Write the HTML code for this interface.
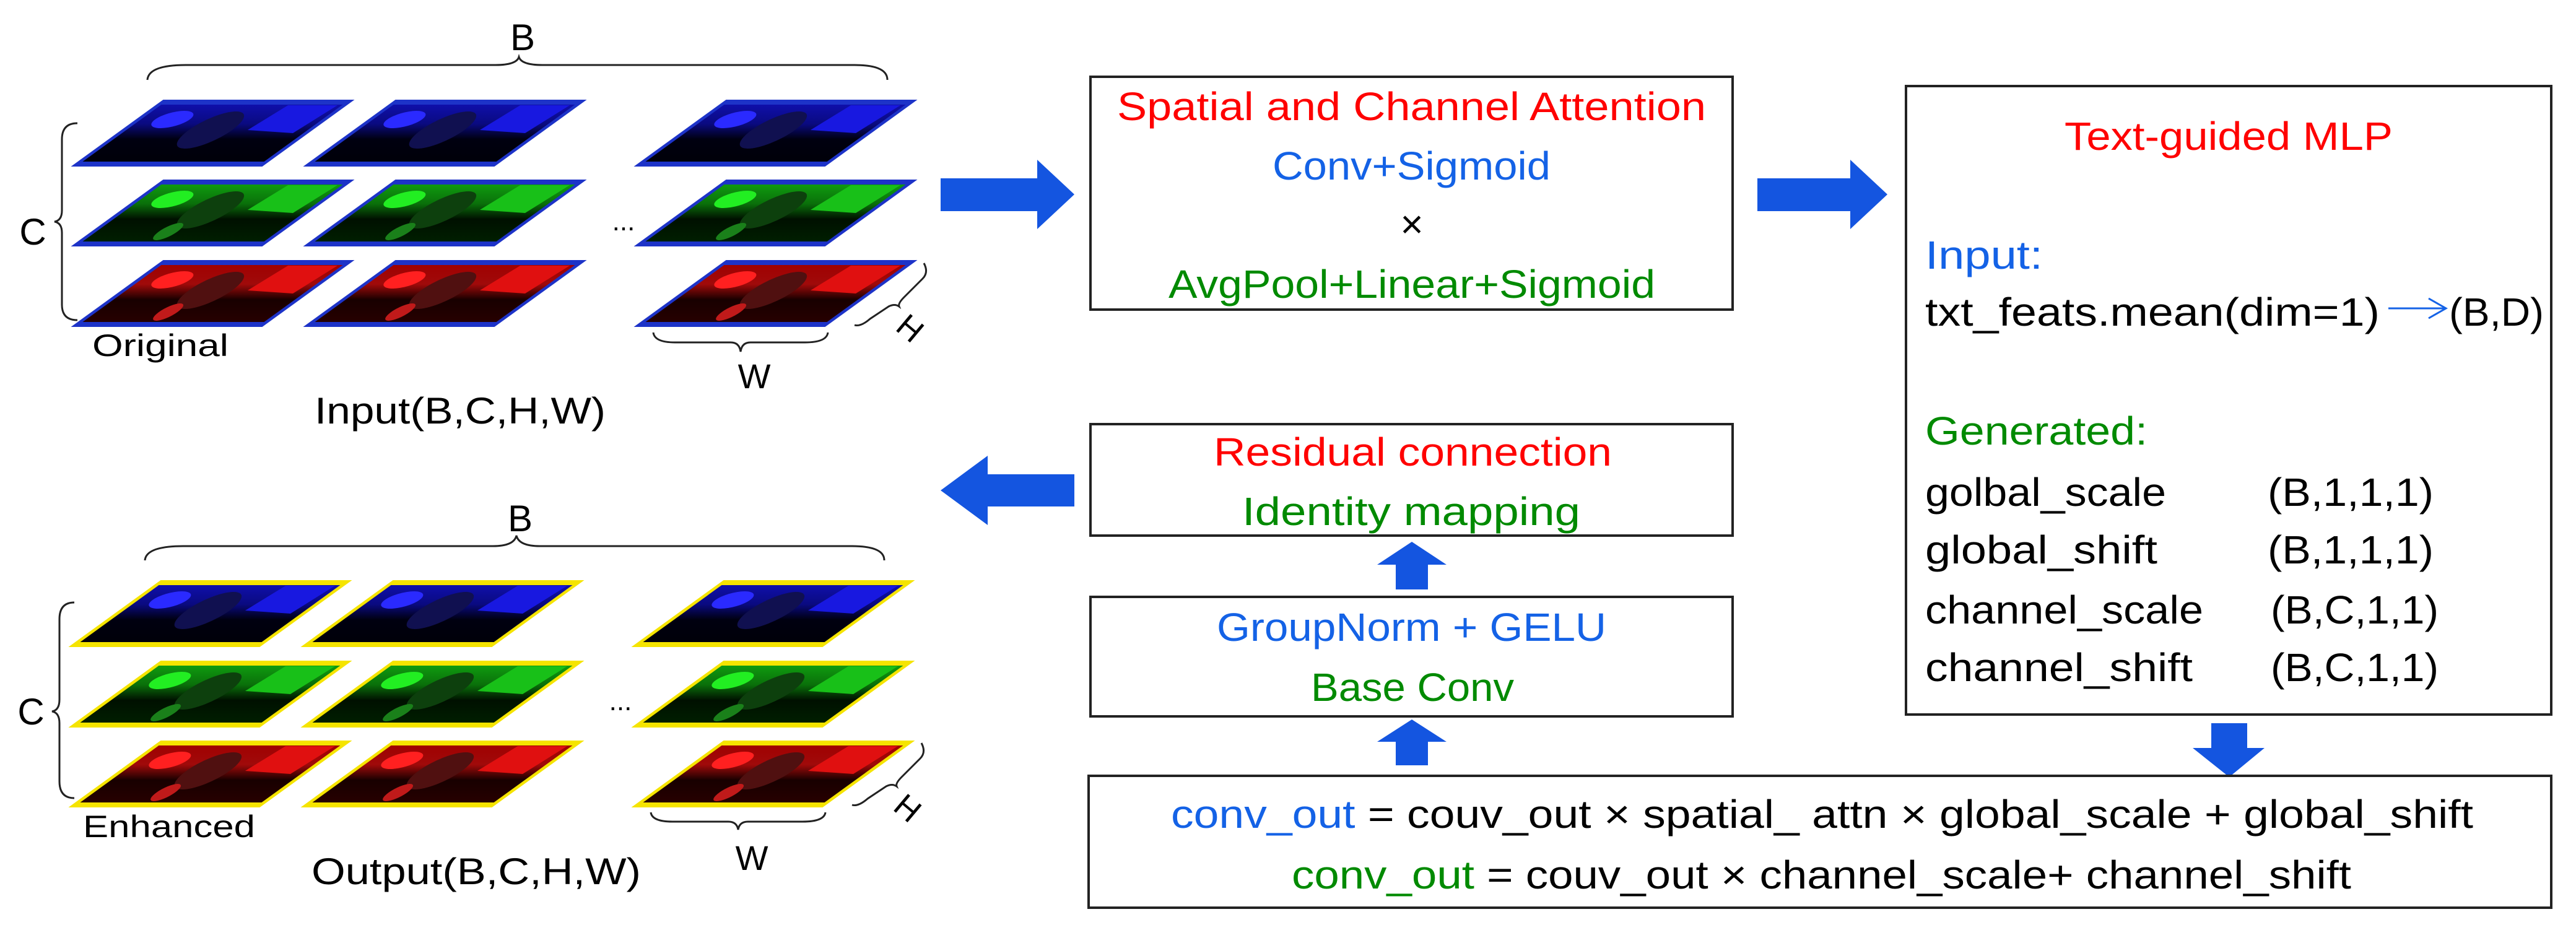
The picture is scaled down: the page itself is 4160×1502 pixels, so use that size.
<!DOCTYPE html>
<html><head><meta charset="utf-8"><style>
html,body{margin:0;padding:0;background:#fff;}
svg{display:block;}
text{font-family:"Liberation Sans",sans-serif;}
</style></head><body>
<svg width="4160" height="1502" viewBox="0 0 4160 1502" xmlns="http://www.w3.org/2000/svg">
<defs>
<linearGradient id="gB" x1="0" y1="0" x2="0" y2="1"><stop offset="0" stop-color="#1010b0"/><stop offset="0.35" stop-color="#0a0a80"/><stop offset="0.6" stop-color="#000010"/><stop offset="1" stop-color="#000008"/></linearGradient>
<linearGradient id="gG" x1="0" y1="0" x2="0" y2="1"><stop offset="0" stop-color="#10a010"/><stop offset="0.35" stop-color="#0a700a"/><stop offset="0.6" stop-color="#001000"/><stop offset="1" stop-color="#002000"/></linearGradient>
<linearGradient id="gR" x1="0" y1="0" x2="0" y2="1"><stop offset="0" stop-color="#a00000"/><stop offset="0.35" stop-color="#a00a0a"/><stop offset="0.6" stop-color="#180000"/><stop offset="1" stop-color="#280000"/></linearGradient>
<g id="cB" stroke="none"><rect x="0" y="0" width="301" height="100" fill="url(#gB)"/><ellipse cx="55" cy="28" rx="28" ry="14" fill="#2a2aff"/><path d="M210 5 L290 5 L280 50 L200 45Z" fill="#1818e0"/><ellipse cx="140" cy="45" rx="35" ry="30" fill="#101050"/></g>
<g id="cG" stroke="none"><rect x="0" y="0" width="301" height="100" fill="url(#gG)"/><ellipse cx="55" cy="28" rx="28" ry="14" fill="#22ee22"/><path d="M210 5 L290 5 L280 50 L200 45Z" fill="#18c018"/><ellipse cx="140" cy="45" rx="35" ry="30" fill="#0d400d"/><ellipse cx="120" cy="80" rx="15" ry="14" fill="#1a801a"/></g>
<g id="cR" stroke="none"><rect x="0" y="0" width="301" height="100" fill="url(#gR)"/><ellipse cx="55" cy="28" rx="28" ry="14" fill="#ff2020"/><path d="M210 5 L290 5 L280 50 L200 45Z" fill="#e01010"/><ellipse cx="140" cy="45" rx="35" ry="30" fill="#501010"/><ellipse cx="120" cy="80" rx="15" ry="14" fill="#c01a1a"/></g>
</defs>

<!-- ===== INPUT (top-left) ===== -->
<text x="844" y="81" font-size="60" text-anchor="middle">B</text>
<path d="M238 129 Q240 105 300 105 L800 105 Q834 105 838 92 Q842 105 876 105 L1380 105 Q1433 105 1433 129" fill="none" stroke="#222" stroke-width="3"/>
<text x="53" y="395" font-size="60" text-anchor="middle">C</text>
<path d="M125 199 Q100 199 100 225 L100 340 Q100 356 88 358 Q100 360 100 376 L100 492 Q100 517 125 517" fill="none" stroke="#222" stroke-width="3"/>
<g stroke="#1d33c8" stroke-width="8" stroke-linejoin="miter">
<g transform="matrix(1,0,-1.38,1,262,165)"><use href="#cB"/><rect x="0" y="0" width="301" height="100" fill="none"/></g>
<g transform="matrix(1,0,-1.38,1,637,165)"><use href="#cB"/><rect x="0" y="0" width="301" height="100" fill="none"/></g>
<g transform="matrix(1,0,-1.38,1,1171,165)"><use href="#cB"/><rect x="0" y="0" width="301" height="100" fill="none"/></g>
<g transform="matrix(1,0,-1.38,1,262,294)"><use href="#cG"/><rect x="0" y="0" width="301" height="100" fill="none"/></g>
<g transform="matrix(1,0,-1.38,1,637,294)"><use href="#cG"/><rect x="0" y="0" width="301" height="100" fill="none"/></g>
<g transform="matrix(1,0,-1.38,1,1171,294)"><use href="#cG"/><rect x="0" y="0" width="301" height="100" fill="none"/></g>
<g transform="matrix(1,0,-1.38,1,262,424)"><use href="#cR"/><rect x="0" y="0" width="301" height="100" fill="none"/></g>
<g transform="matrix(1,0,-1.38,1,637,424)"><use href="#cR"/><rect x="0" y="0" width="301" height="100" fill="none"/></g>
<g transform="matrix(1,0,-1.38,1,1171,424)"><use href="#cR"/><rect x="0" y="0" width="301" height="100" fill="none"/></g>
</g>
<text x="1007" y="372" font-size="44" text-anchor="middle">...</text>
<text x="149" y="575" font-size="50" textLength="220" lengthAdjust="spacingAndGlyphs">Original</text>
<path d="M1055 537 Q1057 553 1090 553 L1180 553 Q1194 553 1196 568 Q1198 553 1212 553 L1300 553 Q1335 553 1337 537" fill="none" stroke="#222" stroke-width="3"/>
<text x="1218" y="627" font-size="56" text-anchor="middle">W</text>
<path d="M1492 425 Q1500 440 1490 450 L1460 480 Q1450 490 1452 495 Q1445 490 1435 495 L1405 515 Q1390 528 1380 525" fill="none" stroke="#222" stroke-width="3"/>
<text x="1470" y="548" font-size="52" text-anchor="middle" transform="rotate(40 1470 530)">H</text>
<text x="508" y="684" font-size="60" textLength="470" lengthAdjust="spacingAndGlyphs">Input(B,C,H,W)</text>

<!-- ===== OUTPUT (bottom-left) ===== -->
<text x="840" y="858" font-size="60" text-anchor="middle">B</text>
<path d="M234 905 Q236 882 296 882 L796 882 Q830 882 834 865 Q838 882 872 882 L1376 882 Q1428 882 1428 905" fill="none" stroke="#222" stroke-width="3"/>
<text x="50" y="1170" font-size="60" text-anchor="middle">C</text>
<path d="M120 973 Q96 973 96 1000 L96 1130 Q96 1147 84 1149 Q96 1151 96 1168 L96 1262 Q96 1289 120 1289" fill="none" stroke="#222" stroke-width="3"/>
<g stroke="#f5e400" stroke-width="8" stroke-linejoin="miter">
<g transform="matrix(1,0,-1.38,1,258,941)"><use href="#cB"/><rect x="0" y="0" width="301" height="100" fill="none"/></g>
<g transform="matrix(1,0,-1.38,1,633,941)"><use href="#cB"/><rect x="0" y="0" width="301" height="100" fill="none"/></g>
<g transform="matrix(1,0,-1.38,1,1167,941)"><use href="#cB"/><rect x="0" y="0" width="301" height="100" fill="none"/></g>
<g transform="matrix(1,0,-1.38,1,258,1071)"><use href="#cG"/><rect x="0" y="0" width="301" height="100" fill="none"/></g>
<g transform="matrix(1,0,-1.38,1,633,1071)"><use href="#cG"/><rect x="0" y="0" width="301" height="100" fill="none"/></g>
<g transform="matrix(1,0,-1.38,1,1167,1071)"><use href="#cG"/><rect x="0" y="0" width="301" height="100" fill="none"/></g>
<g transform="matrix(1,0,-1.38,1,258,1200)"><use href="#cR"/><rect x="0" y="0" width="301" height="100" fill="none"/></g>
<g transform="matrix(1,0,-1.38,1,633,1200)"><use href="#cR"/><rect x="0" y="0" width="301" height="100" fill="none"/></g>
<g transform="matrix(1,0,-1.38,1,1167,1200)"><use href="#cR"/><rect x="0" y="0" width="301" height="100" fill="none"/></g>
</g>
<text x="1002" y="1147" font-size="44" text-anchor="middle">...</text>
<text x="134" y="1352" font-size="50" textLength="278" lengthAdjust="spacingAndGlyphs">Enhanced</text>
<path d="M1051 1312 Q1053 1327 1086 1327 L1176 1327 Q1190 1327 1192 1340 Q1194 1327 1208 1327 L1296 1327 Q1331 1327 1333 1312" fill="none" stroke="#222" stroke-width="3"/>
<text x="1214" y="1405" font-size="56" text-anchor="middle">W</text>
<path d="M1488 1200 Q1496 1215 1486 1225 L1456 1255 Q1446 1265 1448 1270 Q1441 1265 1431 1270 L1401 1290 Q1386 1303 1376 1300" fill="none" stroke="#222" stroke-width="3"/>
<text x="1466" y="1323" font-size="52" text-anchor="middle" transform="rotate(40 1466 1305)">H</text>
<text x="503" y="1428" font-size="60" textLength="532" lengthAdjust="spacingAndGlyphs">Output(B,C,H,W)</text>

<!-- ===== Block arrows ===== -->
<g fill="#1455e0">
<polygon points="1519,288 1675,288 1675,258 1735,314 1675,370 1675,341 1519,341"/>
<polygon points="2838,288 2988,288 2988,258 3048,314 2988,370 2988,341 2838,341"/>
<polygon points="1735,766 1595,766 1595,736 1519,792 1595,848 1595,818 1735,818"/>
<polygon points="2280,875 2336,912 2306,912 2306,952 2254,952 2254,912 2224,912"/>
<polygon points="2280,1162 2336,1198 2306,1198 2306,1236 2254,1236 2254,1198 2224,1198"/>
<polygon points="3571,1168 3629,1168 3629,1208 3657,1208 3600,1255 3541,1208 3571,1208"/>
</g>

<!-- ===== Boxes ===== -->
<g fill="none" stroke="#222" stroke-width="4">
<rect x="1761" y="124" width="1037" height="376"/>
<rect x="3078" y="139" width="1042" height="1015"/>
<rect x="1761" y="685" width="1037" height="180"/>
<rect x="1761" y="964" width="1037" height="193"/>
<rect x="1758" y="1253" width="2362" height="213"/>
</g>

<g font-size="64">
<text x="1804" y="194" fill="#ff0000" textLength="951" lengthAdjust="spacingAndGlyphs">Spatial and Channel Attention</text>
<text x="2055" y="290" fill="#1462e6" textLength="449" lengthAdjust="spacingAndGlyphs">Conv+Sigmoid</text>
<text x="2280" y="384" fill="#000" text-anchor="middle">×</text>
<text x="1887" y="481" fill="#008a00" textLength="786" lengthAdjust="spacingAndGlyphs">AvgPool+Linear+Sigmoid</text>

<text x="3334" y="242" fill="#ff0000" textLength="530" lengthAdjust="spacingAndGlyphs">Text-guided MLP</text>
<text x="3109" y="434" fill="#1462e6" textLength="190" lengthAdjust="spacingAndGlyphs">Input:</text>
<text x="3109" y="526" fill="#000" textLength="734" lengthAdjust="spacingAndGlyphs">txt_feats.mean(dim=1)</text>
<text x="3955" y="526" fill="#000" textLength="153" lengthAdjust="spacingAndGlyphs">(B,D)</text>
<text x="3109" y="718" fill="#008a00" textLength="359" lengthAdjust="spacingAndGlyphs">Generated:</text>
<text x="3109" y="817" fill="#000" textLength="389" lengthAdjust="spacingAndGlyphs">golbal_scale</text>
<text x="3662" y="817" fill="#000" textLength="268" lengthAdjust="spacingAndGlyphs">(B,1,1,1)</text>
<text x="3109" y="910" fill="#000" textLength="375" lengthAdjust="spacingAndGlyphs">global_shift</text>
<text x="3662" y="910" fill="#000" textLength="268" lengthAdjust="spacingAndGlyphs">(B,1,1,1)</text>
<text x="3109" y="1007" fill="#000" textLength="449" lengthAdjust="spacingAndGlyphs">channel_scale</text>
<text x="3667" y="1007" fill="#000" textLength="271" lengthAdjust="spacingAndGlyphs">(B,C,1,1)</text>
<text x="3109" y="1100" fill="#000" textLength="432" lengthAdjust="spacingAndGlyphs">channel_shift</text>
<text x="3667" y="1100" fill="#000" textLength="271" lengthAdjust="spacingAndGlyphs">(B,C,1,1)</text>

<text x="1960" y="752" fill="#ff0000" textLength="643" lengthAdjust="spacingAndGlyphs">Residual connection</text>
<text x="2006" y="848" fill="#008a00" textLength="546" lengthAdjust="spacingAndGlyphs">Identity mapping</text>
<text x="1965" y="1035" fill="#1462e6" textLength="629" lengthAdjust="spacingAndGlyphs">GroupNorm + GELU</text>
<text x="2117" y="1132" fill="#008a00" textLength="328" lengthAdjust="spacingAndGlyphs">Base Conv</text>

<text x="1891" y="1337" fill="#000" textLength="2103" lengthAdjust="spacingAndGlyphs"><tspan fill="#1462e6">conv_out</tspan> = couv_out × spatial_ attn × global_scale + global_shift</text>
<text x="2086" y="1435" fill="#000" textLength="1711" lengthAdjust="spacingAndGlyphs"><tspan fill="#008a00">conv_out</tspan> = couv_out × channel_scale+ channel_shift</text>
</g>
<g stroke="#1462e6" stroke-width="3" fill="none">
<line x1="3857" y1="498" x2="3948" y2="498"/>
<polyline points="3922,482 3950,498 3922,514"/>
</g>
</svg>
</body></html>
